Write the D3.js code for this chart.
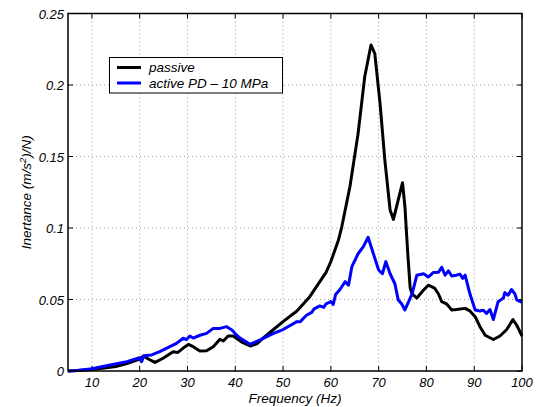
<!DOCTYPE html>
<html><head><meta charset="utf-8">
<script src="https://cdn.jsdelivr.net/npm/d3@7"></script>
<style>
body{margin:0;background:#fff;}
text{font-family:"Liberation Sans",Arial,Helvetica,sans-serif;font-style:italic;}
</style></head>
<body><svg id="c" width="544" height="407"></svg>
<script>
const passiveFreq = [5,7,10,13,15,17.3,20,20.8,21.8,23.2,24.9,27,28,29.5,30.2,31.2,32.6,34,35.4,36.8,37.5,38.5,39.6,40.6,41.5,43.1,44.5,46,48,50,52.9,55.6,57.7,59,60,61.6,62.3,64,65.7,67.1,68.4,69.2,70.3,71.3,72.4,73.1,74.1,75,75.5,76.1,76.6,77,78,79.4,80.4,81.7,82.5,83.2,84.2,85.3,86.3,88.1,89.1,90.2,91.2,92.3,94,95.4,96.8,98.1,98.9,100];
const passiveVal = [0,0.0003,0.001,0.0022,0.0032,0.0052,0.0084,0.0105,0.0084,0.006,0.0089,0.0135,0.013,0.017,0.0186,0.017,0.014,0.0142,0.017,0.0222,0.021,0.0245,0.0245,0.022,0.020,0.0175,0.019,0.0235,0.029,0.0345,0.042,0.052,0.0625,0.069,0.0765,0.0916,0.101,0.129,0.166,0.206,0.228,0.222,0.187,0.1475,0.1126,0.106,0.1196,0.1317,0.115,0.082,0.058,0.054,0.051,0.0566,0.060,0.058,0.054,0.0485,0.047,0.0427,0.043,0.0438,0.042,0.038,0.031,0.025,0.022,0.0245,0.029,0.036,0.032,0.0245];
const activeFreq = [5,7,10,13.8,17.3,20,20.4,20.9,22.5,24.2,26.3,27.7,29.1,29.8,30.5,31.2,32.6,34,35.4,36.8,38.2,39.3,40.3,41,43.1,45.2,48,50,52.9,53.6,54.9,56,56.5,57.7,58.5,59,60,60.5,61,61.9,63,63.7,64.4,65.7,66.8,67.8,68.9,70,70.8,71.5,72.4,73.4,74.1,74.8,75.5,76.2,77,78,79.4,80.4,81.4,82.5,83.2,83.9,84.6,85.3,86.3,87,87.6,88.1,89.1,90.2,91.2,91.9,92.6,93.3,94,95,96.1,96.4,97.1,97.8,98.5,98.9,100];
const activeVal = [0,0.0004,0.0016,0.0042,0.0065,0.0093,0.0065,0.0107,0.0112,0.0135,0.017,0.0193,0.0229,0.022,0.0245,0.023,0.025,0.0263,0.0298,0.0298,0.031,0.0287,0.025,0.023,0.0187,0.0217,0.0263,0.029,0.0345,0.0345,0.039,0.041,0.0435,0.0455,0.0445,0.047,0.0485,0.0465,0.0535,0.057,0.0625,0.060,0.073,0.082,0.087,0.0935,0.082,0.0706,0.068,0.0765,0.068,0.061,0.0497,0.047,0.0427,0.048,0.054,0.067,0.068,0.0657,0.0688,0.069,0.0725,0.067,0.070,0.0664,0.067,0.0678,0.0648,0.067,0.054,0.0427,0.042,0.0425,0.0403,0.043,0.036,0.0485,0.051,0.0548,0.053,0.057,0.054,0.0497,0.048];
const xTicks = [10,20,30,40,50,60,70,80,90,100];
const yTicks = [0,0.05,0.1,0.15,0.2,0.25];
const yTickLabels = ["0","0.05","0.1","0.15","0.2","0.25"];
const seriesNames = ["passive","active PD \u2013 10 MPa"];
const seriesColors = ["#000000","#0000ff"];

const svg = d3.select("#c");
const L=68,R=522,T=13.5,B=371;
const x = d3.scaleLinear().domain([5,100]).range([L,R]);
const y = d3.scaleLinear().domain([0,0.25]).range([B,T]);

// grid
const g = svg.append("g");
g.selectAll(".gx").data(xTicks.filter(d=>d<100)).enter().append("line")
 .attr("x1",d=>x(d)).attr("x2",d=>x(d)).attr("y1",T).attr("y2",B)
 .attr("stroke","#999").attr("stroke-width",1).attr("stroke-dasharray","1,3");
g.selectAll(".gy").data(yTicks.filter(d=>d>0&&d<0.25)).enter().append("line")
 .attr("y1",d=>y(d)).attr("y2",d=>y(d)).attr("x1",L).attr("x2",R)
 .attr("stroke","#999").attr("stroke-width",1).attr("stroke-dasharray","1,3");

// ticks inward all sides
const tl=5;
xTicks.forEach(t=>{
  svg.append("line").attr("x1",x(t)).attr("x2",x(t)).attr("y1",B).attr("y2",B-tl).attr("stroke","#000");
  svg.append("line").attr("x1",x(t)).attr("x2",x(t)).attr("y1",T).attr("y2",T+tl).attr("stroke","#000");
});
yTicks.forEach(t=>{
  svg.append("line").attr("y1",y(t)).attr("y2",y(t)).attr("x1",L).attr("x2",L+tl).attr("stroke","#000");
  svg.append("line").attr("y1",y(t)).attr("y2",y(t)).attr("x1",R).attr("x2",R-tl).attr("stroke","#000");
});

// lines
const line = d3.line().x(d=>x(d[0])).y(d=>y(d[1]));
const pData = passiveFreq.map((f,i)=>[f,passiveVal[i]]);
const aData = activeFreq.map((f,i)=>[f,activeVal[i]]);
svg.append("path").datum(pData).attr("d",line).attr("fill","none").attr("stroke",seriesColors[0]).attr("stroke-width",3).attr("stroke-linejoin","round");
svg.append("path").datum(aData).attr("d",line).attr("fill","none").attr("stroke",seriesColors[1]).attr("stroke-width",3).attr("stroke-linejoin","round");

// box
svg.append("rect").attr("x",L).attr("y",T).attr("width",R-L).attr("height",B-T).attr("fill","none").attr("stroke","#000").attr("stroke-width",1.5);

// tick labels
svg.selectAll(".xl").data(xTicks).enter().append("text")
 .attr("x",d=>x(d)).attr("y",387).attr("text-anchor","middle").attr("font-size",13).text(d=>d);
svg.selectAll(".yl").data(yTicks).enter().append("text")
 .attr("x",64).attr("y",d=>y(d)+5).attr("text-anchor","end").attr("font-size",13).text((d,i)=>yTickLabels[i]);

// axis labels
svg.append("text").attr("x",(L+R)/2).attr("y",403).attr("text-anchor","middle").attr("font-size",13.5).text("Frequency (Hz)");
const yl = svg.append("text").attr("transform",`translate(31,${(T+B)/2}) rotate(-90)`).attr("text-anchor","middle").attr("font-size",13.5);
yl.append("tspan").text("Inertance (m/s");
yl.append("tspan").attr("font-size",9.5).attr("dy",-5).text("2");
yl.append("tspan").attr("dy",5).text(")/N)");

// legend
const lg = svg.append("g");
lg.append("rect").attr("x",109.5).attr("y",57.5).attr("width",173).attr("height",35.5).attr("fill","#fff").attr("stroke","#000").attr("stroke-width",1);
seriesNames.forEach((n,i)=>{
  const yy = 67.5 + i*15.5;
  lg.append("line").attr("x1",117).attr("x2",141).attr("y1",yy).attr("y2",yy).attr("stroke",seriesColors[i]).attr("stroke-width",3);
  lg.append("text").attr("x",149).attr("y",yy+4.5).attr("font-size",13.5).text(n);
});
</script></body></html>
